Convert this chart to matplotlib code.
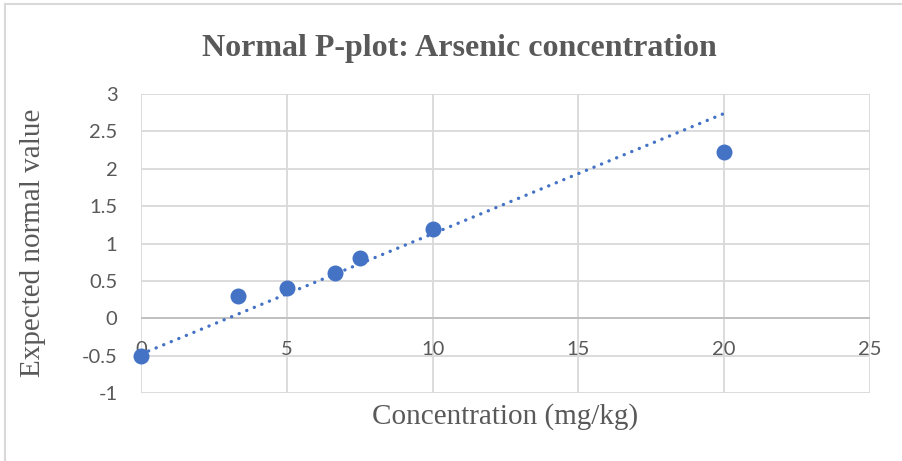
import matplotlib
matplotlib.use("Agg")
import matplotlib.pyplot as plt
from matplotlib.lines import Line2D

# Data
concentration = [0, 3.33, 5, 6.67, 7.5, 10, 20]
expected_normal = [-0.5, 0.3, 0.4, 0.6, 0.8, 1.2, 2.22]

# linear trendline ends (as drawn in the chart)
trend_x = [0, 20]
trend_y = [-0.48, 2.74]

x_ticks = [0, 5, 10, 15, 20, 25]
y_ticks = [-1, -0.5, 0, 0.5, 1, 1.5, 2, 2.5, 3]

blue = "#4472C4"
grey_text = "#595959"
grid_col = "#D9D9D9"

fig = plt.figure(figsize=(9.02, 4.61), dpi=100)
ax = fig.add_axes([141 / 902, 1 - 393 / 461, 729 / 902, 299 / 461])

ax.plot(trend_x, trend_y, color=blue, lw=2.4, linestyle=(0, (0.05, 2.4)),
        dash_capstyle="round", zorder=3)
ax.plot(concentration, expected_normal, "o", color=blue, markersize=11.5,
        markeredgewidth=0, zorder=4, clip_on=False)

ax.set_xlim(0, 25)
ax.set_ylim(-1, 3)
ax.set_xticks(x_ticks)
ax.set_yticks(y_ticks)
ax.grid(True, color=grid_col, lw=1.3, zorder=0)
ax.set_axisbelow(True)
for s in ax.spines.values():
    s.set_visible(False)
# horizontal axis line at y=0
ax.axhline(0, color="#BFBFBF", lw=1.3, zorder=1)

ax.tick_params(length=0, labelcolor=grey_text)
ax.set_yticklabels([f"{v:g}" for v in y_ticks], family="Lato", fontsize=14.5)
ax.tick_params(axis="y", pad=17)

# x tick labels sit just under the y=0 axis line, like Excel
ax.set_xticklabels([])
for xv in x_ticks:
    ax.text(xv, -0.42, f"{xv:g}", ha="center", va="center", family="Lato",
            fontsize=14.5, color=grey_text)

fig.text(459 / 902, 1 - 56 / 461,
         "Normal P-plot: Arsenic concentration", ha="center", va="baseline",
         family="Liberation Serif", fontweight="bold", fontsize=23, color=grey_text)
fig.text(505 / 902, 1 - 424 / 461, "Concentration (mg/kg)", ha="center",
         va="baseline", family="Liberation Serif", fontsize=21, color=grey_text)
fig.text(33 / 902, 1 - 243 / 461, "Expected normal value", ha="center",
         va="center", rotation=90, family="Liberation Serif", fontsize=21,
         color=grey_text)

# chart frame (top and left edges visible in the crop)
fig.add_artist(Line2D([5 / 902, 1], [1 - 4 / 461, 1 - 4 / 461],
                      transform=fig.transFigure, color=grid_col, lw=1.5))
fig.add_artist(Line2D([5 / 902, 5 / 902], [0, 1 - 4 / 461],
                      transform=fig.transFigure, color=grid_col, lw=1.5))

fig.savefig("out.png", dpi=100)
